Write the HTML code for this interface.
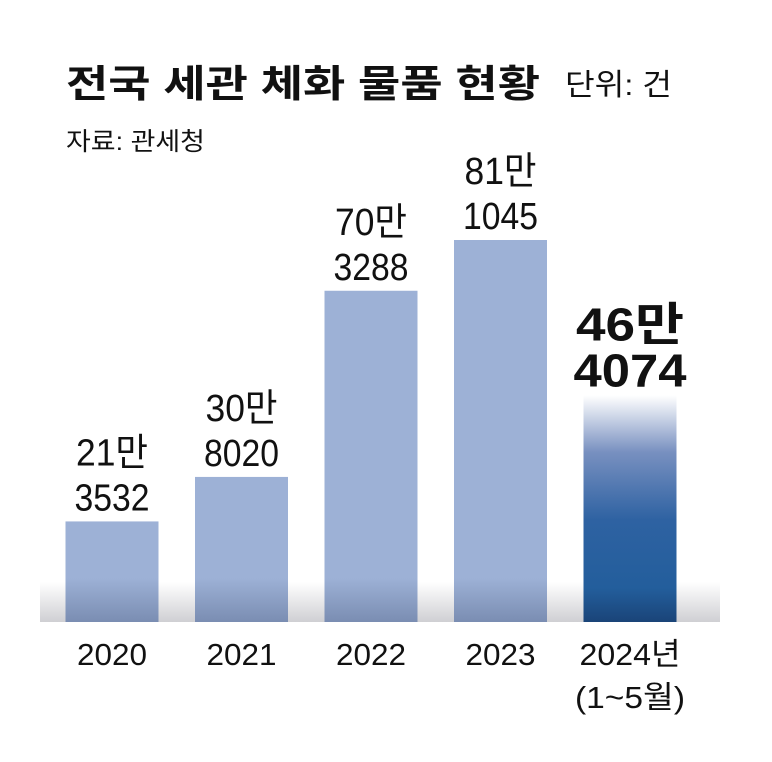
<!DOCTYPE html>
<html><head><meta charset="utf-8"><style>
html,body{margin:0;padding:0;background:#fff;}
svg{display:block;}
text{font-family:"Liberation Sans","Noto Sans CJK KR",sans-serif;}
</style></head><body>
<svg id="chart" width="772" height="762" viewBox="0 0 772 762" xmlns="http://www.w3.org/2000/svg">
<defs>
<linearGradient id="floor" x1="0" y1="0" x2="0" y2="1">
<stop offset="0" stop-color="#fff"/><stop offset="1" stop-color="#cfcfd3"/>
</linearGradient>
<linearGradient id="barG" gradientUnits="userSpaceOnUse" x1="0" y1="578" x2="0" y2="622">
<stop offset="0" stop-color="#9db1d6"/><stop offset="1" stop-color="#7a8db2"/>
</linearGradient>
<linearGradient id="hiG" x1="0" y1="0" x2="0" y2="1">
<stop offset="0" stop-color="#fff"/><stop offset="0.25" stop-color="#7890c0"/><stop offset="0.55" stop-color="#2e62a2"/><stop offset="0.85" stop-color="#235e9c"/><stop offset="1" stop-color="#1a4478"/>
</linearGradient>
</defs>
<text x="66" y="97" font-size="38" font-weight="bold" fill="#111" textLength="474" lengthAdjust="spacingAndGlyphs">전국 세관 체화 물품 현황</text>
<text x="565" y="95" font-size="30" fill="#111" textLength="107" lengthAdjust="spacingAndGlyphs">단위: 건</text>
<text x="66" y="150" font-size="25" fill="#111" textLength="139" lengthAdjust="spacingAndGlyphs">자료: 관세청</text>
<rect x="40" y="582" width="680" height="40" fill="url(#floor)"/>
<g id="bars"></g>
</svg>
<script>
const categories = ["2020","2021","2022","2023","2024년"];
const values = [213532, 308020, 703288, 811045, 464074];
const labelTop = ["21만","30만","70만","81만","46만"];
const labelBottom = ["3532","8020","3288","1045","4074"];
const svg = document.getElementById('bars');
const NS = "http://www.w3.org/2000/svg";
const base = 622, plotH = 382, maxV = 811045;
const y = v => base - v / maxV * plotH;
const xc = i => 112 + i * 129.5;
const bw = 93;
function mk(tag, attrs){const e=document.createElementNS(NS,tag);for(const k in attrs)e.setAttribute(k,attrs[k]);svg.appendChild(e);return e;}
values.forEach((v,i)=>{
  const hi = i===4;
  const top = hi ? y(v) - 8 : y(v);
  const r = mk('rect',{x:xc(i)-bw/2,y:top,width:bw,height:base-top,fill:hi?'url(#hiG)':'url(#barG)'});
  
  
  const fs = hi ? 46 : 38;
  const lh = hi ? 46 : 45;
  const b2 = hi ? y(v) - 17 : y(v) - 11;
  const tl = hi ? 113 : 75;
  const t1 = mk('text',{x:xc(i),y:b2-lh,'font-size':fs,'text-anchor':'middle','font-weight':hi?'bold':'normal',fill:'#111',textLength:hi?108:72,lengthAdjust:'spacingAndGlyphs'});
  t1.textContent = labelTop[i];
  
  
  const t2 = mk('text',{x:xc(i),y:b2,'font-size':fs,'text-anchor':'middle','font-weight':hi?'bold':'normal',fill:'#111',textLength:tl,lengthAdjust:'spacingAndGlyphs'});
  t2.textContent = labelBottom[i];
  
  
  const c = mk('text',{x:xc(i),y:665,'font-size':31,'text-anchor':'middle',fill:'#111',textLength:hi?101:70,lengthAdjust:'spacingAndGlyphs'});
  c.textContent = categories[i];
  
  
});
const sub = mk('text',{x:xc(4),y:708,'font-size':31,'text-anchor':'middle',fill:'#111',textLength:110,lengthAdjust:'spacingAndGlyphs'});
sub.textContent = "(1~5월)";


</script>
</body></html>
